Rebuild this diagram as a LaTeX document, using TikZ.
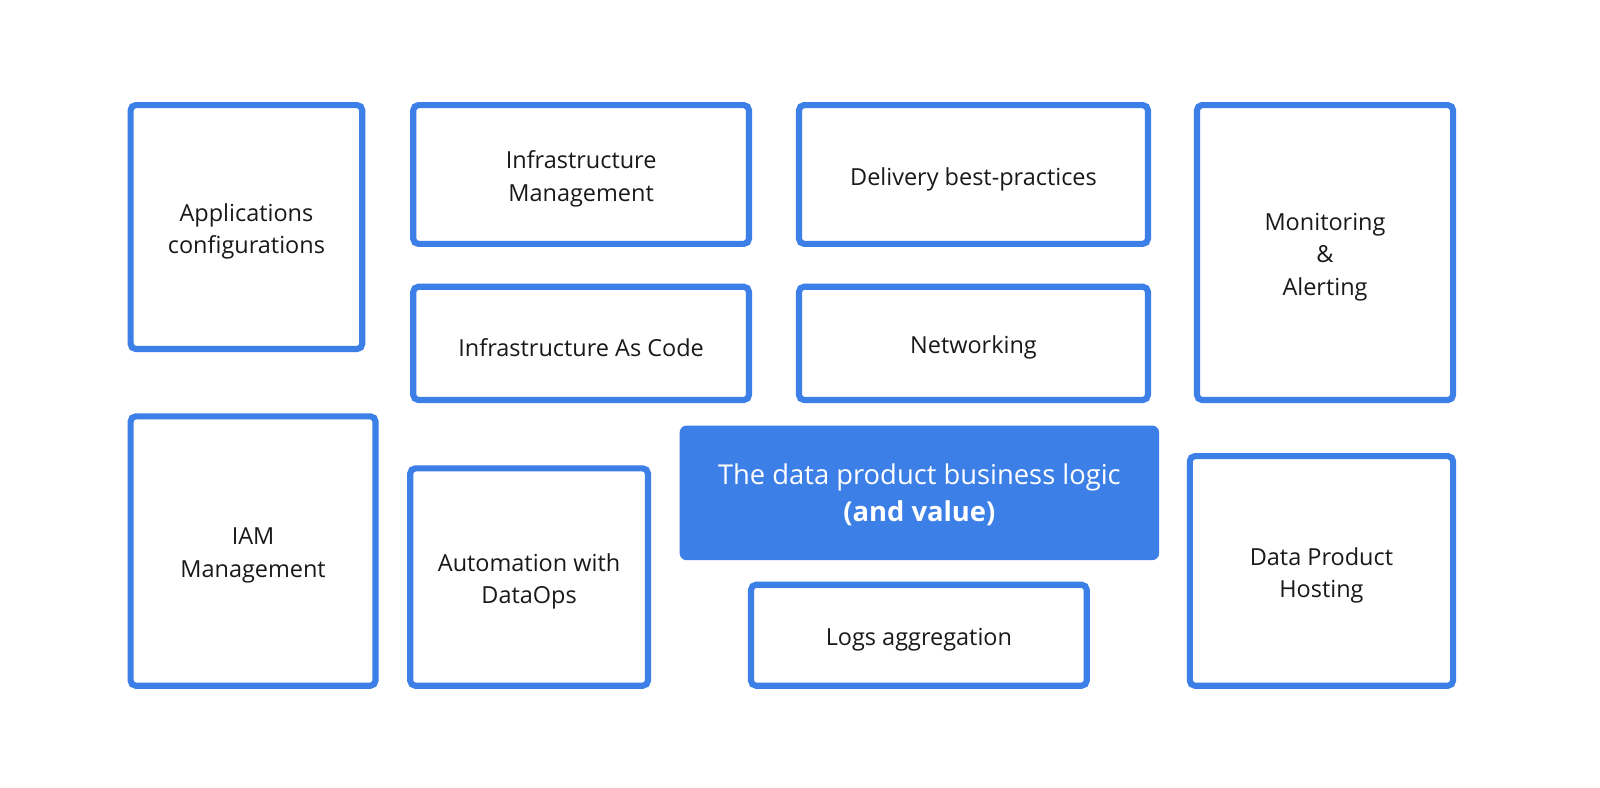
\documentclass[tikz,border=0pt]{standalone}
\usepackage{fontspec}
\setmainfont{Open Sans}
\definecolor{bblue}{RGB}{60,127,230}
\definecolor{txt}{RGB}{25,25,25}
\begin{document}
\begin{tikzpicture}[x=0.5pt,y=-0.5pt,
  box/.style={draw=bblue, line width=3pt, rounded corners=2.5pt, fill=white, inner sep=0pt},
  core/.style={fill=bblue, rounded corners=3.5pt, inner sep=0pt},
  lbl/.style={align=center, text=txt, font=\fontsize{11.5}{16}\selectfont, inner sep=0pt, yshift=-2.2pt},
  corelbl/.style={align=center, text=white, font=\fontsize{13.4}{18.2}\selectfont, inner sep=0pt, yshift=-0.8pt}]
\useasboundingbox[fill=white] (0,0) rectangle (1568,772);
\node[box, minimum width=113.5pt, minimum height=119.5pt] (app) at (241.5,222.5) {};
\node[box, minimum width=164.5pt, minimum height=68pt] (infm) at (569.5,171) {};
\node[box, minimum width=171pt, minimum height=68pt] (deliv) at (954,171) {};
\node[box, minimum width=125.5pt, minimum height=144.5pt] (mon) at (1298.5,247.5) {};
\node[box, minimum width=164.5pt, minimum height=55.5pt] (iac) at (569.5,336.5) {};
\node[box, minimum width=171pt, minimum height=55.5pt] (net) at (954,336.5) {};
\node[box, minimum width=120pt, minimum height=132pt] (iam) at (248,540) {};
\node[box, minimum width=116.5pt, minimum height=106.5pt] (auto) at (518.5,565.5) {};
\node[core, minimum width=235pt, minimum height=66pt] (logic) at (901,483) {};
\node[box, minimum width=164.5pt, minimum height=49.5pt] (logs) at (900.5,622.5) {};
\node[box, minimum width=129pt, minimum height=112.5pt] (host) at (1295,559.5) {};
\node[lbl] (appt) at (app.center) {Applications\\configurations};
\node[lbl] (infmt) at (infm.center) {Infrastructure\\Management};
\node[lbl] (delivt) at (deliv.center) {Delivery best-practices};
\node[lbl] (mont) at (mon.center) {Monitoring\\\&\\Alerting};
\node[lbl] (iact) at (iac.center) {Infrastructure As Code};
\node[lbl] (nett) at (net.center) {Networking};
\node[lbl] (iamt) at (iam.center) {IAM\\Management};
\node[lbl] (autot) at (auto.center) {Automation with\\DataOps};
\node[corelbl] (logict) at (logic.center) {The data product business logic\\\textbf{(and value)}};
\node[lbl] (logst) at (logs.center) {Logs aggregation};
\node[lbl] (hostt) at (host.center) {Data Product\\Hosting};
\end{tikzpicture}
\end{document}
